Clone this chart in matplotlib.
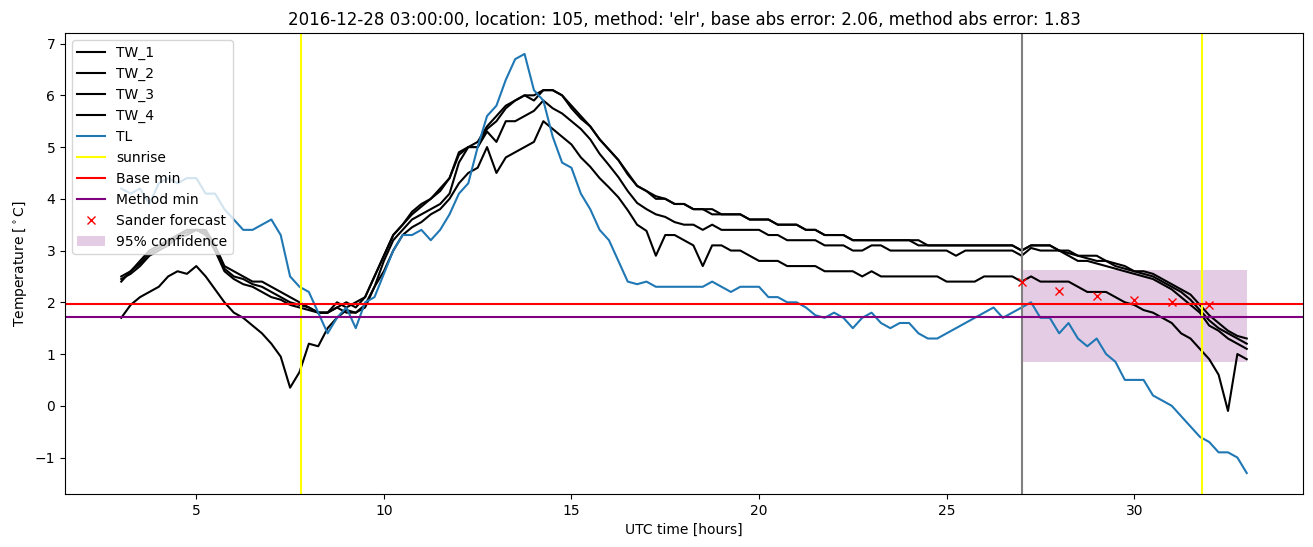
import numpy as np
from matplotlib import pyplot as plt

# time axis: 15 minute steps from 03 UTC to 33 UTC (next day 09 UTC)
hours = np.linspace(3, 33, 121)

# wet bulb temperatures, one row per hour
tw_1 = [2.5, 2.6, 2.8, 3.0,
        3.1, 3.2, 3.3, 3.4,
        3.4, 3.4, 3.1, 2.7,
        2.6, 2.5, 2.4, 2.4,
        2.3, 2.2, 2.1, 2.0,
        1.9, 1.8, 1.8, 2.0,
        1.9, 2.0, 2.1, 2.5,
        2.9, 3.3, 3.5, 3.75,
        3.9, 4.0, 4.2, 4.4,
        4.9, 5.0, 5.1, 5.4,
        5.6, 5.8, 5.9, 6.0,
        6.0, 6.1, 6.1, 6.0,
        5.75, 5.55, 5.4, 5.15,
        4.95, 4.75, 4.47, 4.25,
        4.15, 4.0, 4.0, 3.9,
        3.9, 3.8, 3.8, 3.8,
        3.7, 3.7, 3.7, 3.6,
        3.6, 3.6, 3.5, 3.5,
        3.5, 3.4, 3.4, 3.3,
        3.3, 3.3, 3.2, 3.2,
        3.2, 3.2, 3.2, 3.2,
        3.2, 3.1, 3.1, 3.1,
        3.1, 3.1, 3.1, 3.1,
        3.1, 3.1, 3.1, 3.1,
        3.0, 3.1, 3.1, 3.1,
        3.0, 3.0, 2.9, 2.9,
        2.9, 2.8, 2.75, 2.7,
        2.6, 2.6, 2.55, 2.45,
        2.35, 2.25, 2.15, 1.95,
        1.75, 1.6, 1.45, 1.35,
        1.3]

tw_2 = [2.4, 2.6, 2.75, 2.95,
        3.05, 3.15, 3.3, 3.35,
        3.4, 3.35, 3.0, 2.65,
        2.5, 2.45, 2.35, 2.3,
        2.2, 2.1, 2.0, 1.95,
        1.9, 1.8, 1.8, 1.9,
        2.0, 1.9, 2.1, 2.5,
        2.9, 3.3, 3.5, 3.7,
        3.85, 4.0, 4.15, 4.4,
        4.85, 5.0, 5.0, 5.35,
        5.5, 5.75, 5.9, 6.0,
        5.9, 6.1, 6.1, 6.0,
        5.8, 5.6, 5.4, 5.15,
        4.95, 4.75, 4.5, 4.25,
        4.15, 4.05, 4.0, 3.9,
        3.9, 3.8, 3.8, 3.7,
        3.7, 3.7, 3.7, 3.6,
        3.6, 3.6, 3.5, 3.5,
        3.5, 3.4, 3.4, 3.3,
        3.3, 3.3, 3.2, 3.2,
        3.2, 3.2, 3.2, 3.2,
        3.2, 3.2, 3.1, 3.1,
        3.1, 3.1, 3.1, 3.1,
        3.1, 3.1, 3.1, 3.1,
        3.0, 3.1, 3.1, 3.1,
        3.0, 2.95, 2.9, 2.85,
        2.8, 2.8, 2.7, 2.65,
        2.6, 2.55, 2.5, 2.4,
        2.3, 2.2, 2.05, 1.85,
        1.65, 1.5, 1.4, 1.3,
        1.2]

tw_3 = [2.45, 2.55, 2.7, 2.9,
        3.0, 3.1, 3.25, 3.3,
        3.4, 3.3, 3.0, 2.6,
        2.45, 2.35, 2.3, 2.2,
        2.1, 2.05, 1.95, 1.9,
        1.85, 1.8, 1.8, 1.9,
        1.8, 1.8, 1.9, 2.3,
        2.8, 3.2, 3.4, 3.6,
        3.7, 3.8, 3.9, 4.1,
        4.7, 5.0, 5.0, 5.3,
        5.1, 5.5, 5.5, 5.6,
        5.7, 5.9, 5.75, 5.65,
        5.5, 5.35, 5.15, 4.87,
        4.65, 4.42, 4.15, 3.92,
        3.8, 3.7, 3.65, 3.55,
        3.5, 3.5, 3.4, 3.5,
        3.4, 3.4, 3.4, 3.4,
        3.4, 3.3, 3.3, 3.2,
        3.2, 3.2, 3.2, 3.1,
        3.1, 3.1, 3.0, 3.0,
        3.1, 3.1, 3.0, 3.0,
        3.0, 3.0, 3.0, 3.0,
        3.0, 2.9, 3.0, 3.0,
        3.0, 3.0, 3.0, 3.0,
        2.9, 3.05, 3.0, 3.0,
        3.0, 2.9, 2.8, 2.8,
        2.75, 2.7, 2.65, 2.6,
        2.55, 2.5, 2.45, 2.35,
        2.25, 2.1, 1.95, 1.8,
        1.55, 1.45, 1.3, 1.2,
        1.1]

tw_4 = [1.7, 1.95, 2.1, 2.2,
        2.3, 2.5, 2.6, 2.55,
        2.7, 2.5, 2.25, 2.0,
        1.8, 1.7, 1.55, 1.4,
        1.2, 0.95, 0.35, 0.65,
        1.2, 1.15, 1.5, 1.7,
        1.85, 1.8, 1.95, 2.3,
        2.6, 3.0, 3.3, 3.45,
        3.55, 3.7, 3.8, 4.0,
        4.3, 4.5, 4.6, 5.0,
        4.5, 4.8, 4.9, 5.0,
        5.1, 5.5, 5.35, 5.2,
        5.05, 4.8, 4.62, 4.4,
        4.22, 4.03, 3.78, 3.5,
        3.38, 2.9, 3.3, 3.3,
        3.2, 3.1, 2.7, 3.1,
        3.1, 3.0, 3.0, 2.9,
        2.8, 2.8, 2.8, 2.7,
        2.7, 2.7, 2.7, 2.6,
        2.6, 2.6, 2.6, 2.5,
        2.6, 2.5, 2.5, 2.5,
        2.5, 2.5, 2.5, 2.5,
        2.4, 2.4, 2.4, 2.4,
        2.5, 2.5, 2.5, 2.5,
        2.4, 2.5, 2.4, 2.4,
        2.4, 2.4, 2.3, 2.2,
        2.2, 2.2, 2.1, 2.0,
        1.95, 1.85, 1.8, 1.7,
        1.6, 1.4, 1.3, 1.1,
        0.9, 0.6, -0.1, 1.0,
        0.9]

# air temperature
tl = [4.2, 4.1, 4.2, 3.9,
      4.3, 4.4, 4.3, 4.4,
      4.4, 4.1, 4.1, 3.8,
      3.6, 3.4, 3.4, 3.5,
      3.6, 3.3, 2.5, 2.3,
      2.2, 1.8, 1.4, 1.7,
      1.9, 1.5, 2.0, 2.1,
      2.55, 3.0, 3.3, 3.3,
      3.4, 3.2, 3.4, 3.7,
      4.1, 4.3, 5.0, 5.6,
      5.8, 6.3, 6.7, 6.8,
      6.1, 5.9, 5.2, 4.7,
      4.6, 4.1, 3.8, 3.4,
      3.2, 2.8, 2.4, 2.35,
      2.4, 2.3, 2.3, 2.3,
      2.3, 2.3, 2.3, 2.4,
      2.3, 2.2, 2.3, 2.3,
      2.3, 2.1, 2.1, 2.0,
      2.0, 1.9, 1.75, 1.7,
      1.8, 1.7, 1.5, 1.7,
      1.8, 1.6, 1.5, 1.6,
      1.6, 1.4, 1.3, 1.3,
      1.4, 1.5, 1.6, 1.7,
      1.8, 1.9, 1.7, 1.8,
      1.9, 2.0, 1.7, 1.7,
      1.4, 1.6, 1.3, 1.15,
      1.3, 1.0, 0.85, 0.5,
      0.5, 0.5, 0.2, 0.1,
      0.0, -0.2, -0.4, -0.6,
      -0.7, -0.9, -0.9, -1.0,
      -1.3]

sunrise = [7.8, 31.8]
forecast_time = 27
base_min = 1.96
method_min = 1.72

sander_hours = [27, 28, 29, 30, 31, 32]
sander_values = [2.40, 2.21, 2.13, 2.04, 2.00, 1.95]

conf_hours = [27, 33]
conf_low = 0.85
conf_high = 2.62

fig = plt.figure(figsize=(13.13, 5.47), dpi=100)
ax = fig.add_subplot(111)
fig.subplots_adjust(left=0.0495, right=0.9924, top=0.9397, bottom=0.0969)

ax.plot(hours, tw_1, color='black', label='TW_1')
ax.plot(hours, tw_2, color='black', label='TW_2')
ax.plot(hours, tw_3, color='black', label='TW_3')
ax.plot(hours, tw_4, color='black', label='TW_4')
ax.plot(hours, tl, color='C0', label='TL')

ax.axvline(sunrise[0], color='yellow', label='sunrise')
ax.axvline(sunrise[1], color='yellow')
ax.axvline(forecast_time, color='gray')
ax.axhline(base_min, color='red', label='Base min')
ax.axhline(method_min, color='purple', label='Method min')

ax.plot(sander_hours, sander_values, 'x', color='red', label='Sander forecast')
ax.fill_between(conf_hours, conf_low, conf_high, color='purple', alpha=0.2,
                linewidth=0, label='95% confidence')

ax.set_xlabel('UTC time [hours]')
ax.set_ylabel('Temperature [$^\\circ$C]')
ax.set_title("2016-12-28 03:00:00, location: 105, method: 'elr', "
             "base abs error: 2.06, method abs error: 1.83")
ax.legend(loc='upper left')

plt.savefig('out.png', dpi=100)
